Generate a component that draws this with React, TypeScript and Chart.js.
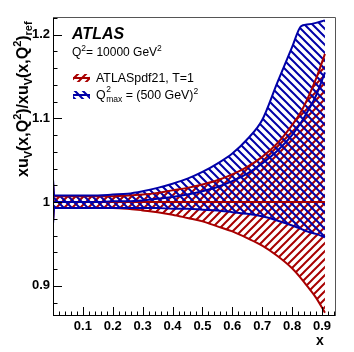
import React, { useEffect, useRef } from 'react';
import { Chart, registerables } from 'chart.js';
Chart.register(...registerables);

// ---- data ----
const xValues = [0.0003, 0.004, 0.05, 0.1, 0.15, 0.2, 0.25, 0.3, 0.35, 0.4, 0.45, 0.5, 0.55, 0.6, 0.65, 0.7, 0.75, 0.8, 0.83, 0.85, 0.88, 0.91];
const redUpper = [1.022, 1.007, 1.007, 1.007, 1.007, 1.007, 1.008, 1.009, 1.011, 1.014, 1.017, 1.021, 1.026, 1.033, 1.042, 1.054, 1.07, 1.092, 1.108, 1.122, 1.147, 1.177];
const redLower = [0.978, 0.993, 0.993, 0.993, 0.993, 0.993, 0.992, 0.99, 0.988, 0.985, 0.981, 0.977, 0.971, 0.965, 0.957, 0.948, 0.936, 0.921, 0.909, 0.9, 0.886, 0.868];
const redCentral = [1, 1, 1, 1, 1, 1, 1, 1, 1, 1, 1, 1, 1, 1, 1, 1, 1, 1, 1, 1, 1, 1];
const blueUpper = [1.026, 1.008, 1.008, 1.008, 1.008, 1.009, 1.01, 1.013, 1.017, 1.022, 1.028, 1.036, 1.046, 1.058, 1.075, 1.098, 1.142, 1.185, 1.21, 1.212, 1.214, 1.217];
const blueLower = [0.975, 0.993, 0.993, 0.993, 0.993, 0.993, 0.993, 0.993, 0.993, 0.992, 0.992, 0.991, 0.99, 0.988, 0.986, 0.983, 0.978, 0.972, 0.968, 0.965, 0.962, 0.958];
const blueCentral = [1.0, 1.0, 1.0, 1.0, 1.0, 1.001, 1.001, 1.002, 1.004, 1.006, 1.009, 1.013, 1.018, 1.025, 1.034, 1.046, 1.061, 1.08, 1.095, 1.107, 1.127, 1.155];

const xTickValues = [0.1, 0.2, 0.3, 0.4, 0.5, 0.6, 0.7, 0.8, 0.9];
const xTickLabels = ['0.1', '0.2', '0.3', '0.4', '0.5', '0.6', '0.7', '0.8', '0.9'];
const yTickValues = [0.9, 1.0, 1.1, 1.2];
const yTickLabels = ['0.9', '1', '1.1', '1.2'];

const redLabel = 'ATLASpdf21, T=1';

const RED = '#a80000';
const BLUE = '#0000a8';
const FONT = "'Liberation Sans', Arial, sans-serif";

function makeHatch(ctx: CanvasRenderingContext2D, color: string, dir: string) {
  const s = 8;
  const c = document.createElement('canvas');
  c.width = s; c.height = s;
  const g = c.getContext('2d')!;
  g.strokeStyle = color; g.lineWidth = 2;
  g.beginPath();
  if (dir === '/') {
    g.moveTo(-2, 2); g.lineTo(2, -2);
    g.moveTo(-1, s + 1); g.lineTo(s + 1, -1);
    g.moveTo(s - 2, s + 2); g.lineTo(s + 2, s - 2);
  } else {
    g.moveTo(-2, s - 2); g.lineTo(2, s + 2);
    g.moveTo(-1, -1); g.lineTo(s + 1, s + 1);
    g.moveTo(s - 2, -2); g.lineTo(s + 2, 2);
  }
  g.stroke();
  return ctx.createPattern(c, 'repeat')!;
}

function pts(ys: number[]) {
  return xValues.map((x, i) => ({ x, y: ys[i] }));
}

function drawSegments(ctx: CanvasRenderingContext2D, segs: { t: string; k: string }[], x0: number, y0: number, main: number, small: number, weight: string) {
  let x = x0;
  for (const s of segs) {
    const size = s.k === 'n' ? main : small;
    ctx.font = `${weight} ${size}px ${FONT}`;
    const dy = s.k === 'sub' ? main * 0.28 : s.k === 'sup' ? -main * 0.42 : 0;
    ctx.fillText(s.t, x, y0 + dy);
    x += ctx.measureText(s.t).width;
  }
  return x;
}

export default function App() {
  const ref = useRef<HTMLCanvasElement>(null);
  useEffect(() => {
    const canvas = ref.current!;
    const ctx0 = canvas.getContext('2d')!;
    const redPat = makeHatch(ctx0, RED, '/');
    const bluePat = makeHatch(ctx0, BLUE, '\\');

    const deco = {
      id: 'deco',
      afterDraw(chart: any) {
        const { ctx, chartArea: a, scales } = chart;
        const xs = scales.x, ys = scales.y;
        ctx.save();
        // frame
        ctx.strokeStyle = '#000'; ctx.lineWidth = 1;
        ctx.beginPath();
        ctx.moveTo(a.left + 0.5, a.top); ctx.lineTo(a.left + 0.5, a.bottom);
        ctx.moveTo(a.left, a.bottom - 0.5); ctx.lineTo(a.right, a.bottom - 0.5);
        ctx.stroke();
        ctx.strokeStyle = '#555';
        ctx.beginPath();
        ctx.moveTo(a.left, a.top + 0.5); ctx.lineTo(a.right - 0.5, a.top + 0.5); ctx.lineTo(a.right - 0.5, a.bottom);
        ctx.stroke();
        // ticks
        ctx.strokeStyle = '#000';
        ctx.beginPath();
        for (let i = 0; i <= 50; i++) {
          const v = Math.round(i * 2) / 100;
          if (v < xs.min || v > xs.max) continue;
          const px = Math.round(xs.getPixelForValue(v)) + 0.5;
          const major = i % 5 === 0;
          ctx.moveTo(px, a.bottom); ctx.lineTo(px, a.bottom - (major ? 9 : 4.5));
        }
        for (let i = 0; i <= 70; i++) {
          const v = 0.8 + i * 0.02;
          if (v < ys.min || v > ys.max) continue;
          const py = Math.round(ys.getPixelForValue(v)) + 0.5;
          const major = i % 5 === 0;
          ctx.moveTo(a.left, py); ctx.lineTo(a.left + (major ? 9 : 4.5), py);
        }
        ctx.stroke();

        ctx.fillStyle = '#000';
        ctx.textBaseline = 'alphabetic';
        // x axis title
        ctx.font = `bold 14px ${FONT}`;
        ctx.textAlign = 'center';
        ctx.fillText('x', 320, 345);
        ctx.textAlign = 'left';
        // y axis title (rotated)
        ctx.save();
        ctx.translate(28, 177);
        ctx.rotate(-Math.PI / 2);
        drawSegments(ctx, [
          { t: 'xu', k: 'n' }, { t: 'V', k: 'sub' }, { t: '(x,Q', k: 'n' }, { t: '2', k: 'sup' },
          { t: ')/xu', k: 'n' }, { t: 'V', k: 'sub' }, { t: '(x,Q', k: 'n' }, { t: '2', k: 'sup' },
          { t: ')', k: 'n' }, { t: 'ref', k: 'sub' },
        ], 0, 0, 16, 11, 'bold');
        ctx.restore();

        // ATLAS label
        ctx.font = `italic bold 16px ${FONT}`;
        ctx.fillText('ATLAS', 72, 39);
        drawSegments(ctx, [
          { t: 'Q', k: 'n' }, { t: '2', k: 'sup' }, { t: '= 10000 GeV', k: 'n' }, { t: '2', k: 'sup' },
        ], 72, 56, 12, 8.5, 'normal');

        // legend entries
        const drawIcon = (pat: CanvasPattern, color: string, cy: number) => {
          ctx.save();
          ctx.fillStyle = pat;
          ctx.fillRect(73, cy - 4, 17, 8);
          ctx.strokeStyle = color; ctx.lineWidth = 2;
          ctx.beginPath(); ctx.moveTo(73, cy); ctx.lineTo(90, cy); ctx.stroke();
          ctx.restore();
        };
        drawIcon(redPat, RED, 78);
        drawIcon(bluePat, BLUE, 95);
        ctx.fillStyle = '#000';
        ctx.font = `normal 12.4px ${FONT}`;
        ctx.fillText(redLabel, 96, 82);
        // Q^2_max
        ctx.font = `normal 12.4px ${FONT}`;
        ctx.fillText('Q', 96, 99);
        const qw = ctx.measureText('Q').width;
        ctx.font = `normal 8.5px ${FONT}`;
        ctx.fillText('2', 96 + qw + 0.5, 92);
        ctx.fillText('max', 96 + qw + 0.5, 102);
        const mw = ctx.measureText('max').width;
        drawSegments(ctx, [{ t: ' = (500 GeV)', k: 'n' }, { t: '2', k: 'sup' }], 96 + qw + 0.5 + mw, 99, 12.4, 8.5, 'normal');
        ctx.restore();
      },
    };

    const common = { pointRadius: 0, borderWidth: 2, cubicInterpolationMode: 'monotone' as const };
    const chart = new Chart(canvas, {
      type: 'line',
      data: {
        datasets: [
          { ...common, label: 'blueUp', data: pts(blueUpper), borderColor: BLUE, backgroundColor: bluePat, fill: '+1' },
          { ...common, label: 'blueLo', data: pts(blueLower), borderColor: BLUE, fill: false },
          { ...common, label: 'blueMid', data: pts(blueCentral), borderColor: BLUE, fill: false },
          { ...common, label: 'redUp', data: pts(redUpper), borderColor: RED, backgroundColor: redPat, fill: '+1' },
          { ...common, label: 'redLo', data: pts(redLower), borderColor: RED, fill: false },
          { ...common, label: 'redMid', data: pts(redCentral), borderColor: RED, fill: false },
        ] as any,
      },
      options: {
        animation: false,
        responsive: false,
        devicePixelRatio: 1,
        layout: { padding: { left: 0, top: 17, right: 18, bottom: 0 } },
        plugins: {
          legend: { display: false },
          tooltip: { enabled: false },
          filler: { drawTime: 'beforeDatasetsDraw' },
        } as any,
        scales: {
          x: {
            type: 'linear', min: 0, max: 0.947,
            grid: { display: false, drawTicks: false },
            border: { display: false },
            afterBuildTicks: (s: any) => { s.ticks = xTickValues.map((v) => ({ value: v })); },
            afterFit: (s: any) => { s.height = 36; },
            ticks: {
              autoSkip: false, maxRotation: 0, padding: 3, color: '#000',
              font: { family: FONT, size: 13, weight: 'bold' },
              callback: (_v: any, i: number) => xTickLabels[i],
            },
          },
          y: {
            type: 'linear', min: 0.864, max: 1.221,
            grid: { display: false, drawTicks: false },
            border: { display: false },
            afterBuildTicks: (s: any) => { s.ticks = yTickValues.map((v) => ({ value: v })); },
            afterFit: (s: any) => { s.width = 53; },
            ticks: {
              autoSkip: false, padding: 3, color: '#000',
              font: { family: FONT, size: 13, weight: 'bold' },
              callback: (_v: any, i: number) => yTickLabels[i],
            },
          },
        },
      } as any,
      plugins: [deco],
    });
    return () => chart.destroy();
  }, []);
  return (
    <div style={{ position: 'fixed', left: 0, top: 0, width: 354, height: 352, background: '#fff' }}>
      <canvas ref={ref} width={354} height={352} style={{ width: 354, height: 352, display: 'block' }} />
    </div>
  );
}
